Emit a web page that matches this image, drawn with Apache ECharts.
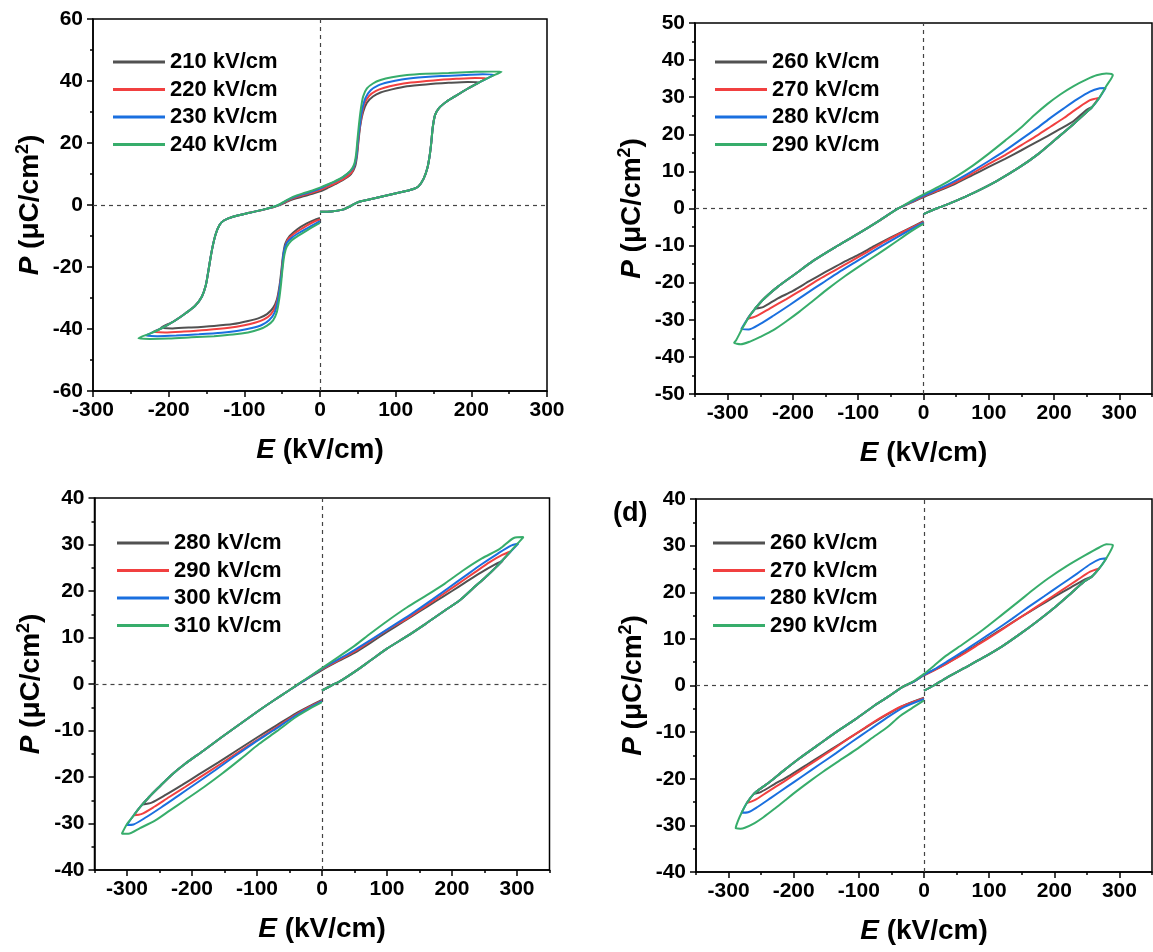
<!DOCTYPE html>
<html>
<head>
<meta charset="utf-8">
<title>P-E loops</title>
<script src="https://cdn.jsdelivr.net/npm/echarts@6.0.0/dist/echarts.min.js"></script>
<style>
html, body { margin: 0; padding: 0; background: #fff; }
#pe-loop-chart-container { width: 1153px; height: 952px; }
</style>
</head>
<body>
<div id="pe-loop-chart-container"></div>
<script>
// colours of the four loops in every panel (gray, red, blue, green)
var loopColors = ['#515151', '#F14040', '#1A6FDF', '#37AD6B'];

// panel a : 210 - 240 kV/cm  (E kV/cm, P uC/cm2)
var panelANames = ['210 kV/cm', '220 kV/cm', '230 kV/cm', '240 kV/cm'];
var panelA210 = [[0,-2.2],[15,-2.1],[30,-1.5],[40,-0.4],[50,0.9],[65,1.8],[85,2.9],[105,4],[120,4.9],[130,6],[137,8.5],[142,12],[145,16],[147,20],[149,25],[152,29],[157,31.2],[167,33.3],[180,35.3],[195,37.5],[210,39.6],
    [195,39.7],[170,39.4],[140,38.9],[115,38.3],[95,37.3],[80,36.3],[70,35],[62,33],[57,30],[53.5,26],[51,21],[49,16],[46.5,12.5],[41,10],[30,8],[20,6.7],[10,5.5],[0,4.4],[-10,3.6],[-22,2.8],[-35,1.9],[-45,0.9],[-52,0.1],[-60,-0.6],[-75,-1.5],[-95,-2.6],[-115,-3.8],[-127,-5],[-133,-6.5],[-138,-9.5],[-142,-13.5],[-145,-17.5],[-148,-22],[-151,-26],[-156,-29.5],[-165,-32.5],[-178,-35],[-193,-37.5],[-210,-39.6],
    [-195,-39.8],[-170,-39.5],[-140,-39],[-115,-38.4],[-95,-37.4],[-80,-36.4],[-70,-35.2],[-62,-33.2],[-57,-30.5],[-53.5,-26],[-51,-21],[-49,-16.5],[-46,-12.5],[-40,-10],[-30,-7.8],[-18,-6],[-8,-4.9],[0,-4.2]];
var panelA220 = [[0,-2.2],[15,-2.1],[30,-1.5],[40,-0.4],[50,0.9],[65,1.8],[85,2.9],[105,4],[120,4.9],[130,6],[137,8.5],[142,12],[145,16],[147,20],[149,25],[152,29],[157,31.2],[167,33.3],[180,35.3],[195,37.5],[210,39.5],[220,40.9],
    [205,41],[180,40.7],[150,40.2],[120,39.5],[100,38.7],[85,37.8],[74,36.8],[65,35.2],[58.5,32.5],[54.5,28],[51.5,23],[49.5,18],[47,14],[42,10.6],[31,8.4],[20,7],[10,5.9],[0,4.8],[-10,4],[-22,3.2],[-35,2.2],[-45,1.1],[-52,0.2],[-60,-0.6],[-75,-1.5],[-95,-2.6],[-115,-3.8],[-127,-5],[-133,-6.5],[-138,-9.5],[-142,-13.5],[-145,-17.5],[-148,-22],[-151,-26],[-156,-29.5],[-165,-32.5],[-178,-35],[-193,-37.5],[-208,-39.6],[-220,-40.9],
    [-205,-41.1],[-180,-40.8],[-150,-40.3],[-120,-39.6],[-100,-38.8],[-85,-37.9],[-74,-36.9],[-65,-35.3],[-58.5,-32.5],[-54.5,-28.5],[-51.5,-23.5],[-49.5,-18.5],[-47,-14.5],[-42,-11],[-31,-8.7],[-18,-6.7],[-8,-5.4],[0,-4.7]];
var panelA230 = [[0,-2.2],[15,-2.1],[30,-1.5],[40,-0.4],[50,0.9],[65,1.8],[85,2.9],[105,4],[120,4.9],[130,6],[137,8.5],[142,12],[145,16],[147,20],[149,25],[152,29],[157,31.2],[167,33.3],[180,35.3],[195,37.5],[210,39.5],[225,41.3],[230,42],
    [215,42.2],[190,41.9],[160,41.6],[130,41.1],[108,40.5],[90,39.6],[77,38.6],[67,37],[60,34.5],[55.5,30.5],[52.5,25.5],[50,20.5],[48,15.5],[44,12],[35,9.8],[25,8.2],[12,6.7],[0,5.3],[-10,4.4],[-22,3.5],[-35,2.5],[-45,1.3],[-52,0.3],[-60,-0.5],[-75,-1.5],[-95,-2.6],[-115,-3.8],[-127,-5],[-133,-6.5],[-138,-9.5],[-142,-13.5],[-145,-17.5],[-148,-22],[-151,-26],[-156,-29.5],[-165,-32.5],[-178,-35],[-193,-37.5],[-208,-39.6],[-224,-41.4],[-230,-42.1],
    [-215,-42.3],[-190,-42.1],[-160,-41.7],[-130,-41.2],[-108,-40.6],[-90,-39.7],[-77,-38.7],[-67,-37.1],[-60,-34.7],[-55.5,-30.5],[-52.5,-25.5],[-50,-20.5],[-48,-15.5],[-44,-12.3],[-36,-10.3],[-25,-8.6],[-12,-6.8],[0,-5.2]];
var panelA240 = [[0,-2.2],[15,-2.1],[30,-1.5],[40,-0.4],[50,0.9],[65,1.8],[85,2.9],[105,4],[120,4.9],[130,6],[137,8.5],[142,12],[145,16],[147,20],[149,25],[152,29],[157,31.2],[167,33.3],[180,35.3],[195,37.5],[210,39.5],[225,41.3],[240,43],
    [225,43.1],[200,42.9],[170,42.6],[140,42.3],[115,41.9],[95,41.2],[80,40.3],[70,39.2],[62,37.6],[57,35],[54,31],[51.5,26],[49.5,21],[47.5,16],[45,13],[40,11],[30,9],[20,7.7],[10,6.6],[0,5.6],[-10,4.7],[-22,3.8],[-35,2.7],[-45,1.4],[-52,0.4],[-60,-0.5],[-75,-1.5],[-95,-2.6],[-115,-3.8],[-127,-5],[-133,-6.5],[-138,-9.5],[-142,-13.5],[-145,-17.5],[-148,-22],[-151,-26],[-156,-29.5],[-165,-32.5],[-178,-35],[-193,-37.5],[-208,-39.6],[-224,-41.4],[-240,-43],
    [-225,-43.2],[-200,-43.1],[-170,-42.7],[-140,-42.3],[-115,-41.8],[-95,-41.1],[-80,-40.1],[-70,-38.9],[-62,-37.2],[-57,-34.5],[-54,-30.5],[-51.5,-25.5],[-49.5,-20.5],[-47,-16],[-44,-13.5],[-38,-11.5],[-28,-9.8],[-16,-8],[-6,-6.6],[0,-5.8]];

// panel b : 260 - 290 kV/cm
var panelBNames = ['260 kV/cm', '270 kV/cm', '280 kV/cm', '290 kV/cm'];
var panelB260 = [[0,-1.5],[20,0],[45,1.7],[80,4.5],[112,7.4],[146,11],[175,14.6],[202,18.6],[230,22.8],[250,26],[258,27.3],
    [250,26.6],[230,23.6],[210,21.5],[190,19.5],[170,17.6],[150,15.7],[125,13.4],[100,11.2],[75,9],[50,6.8],[25,4.9],[0,3.1],[-20,1.5],[-40,-0.1],[-67,-3.2],[-100,-6.8],[-135,-10.4],[-168,-14],[-196,-17.6],[-224,-21.2],[-247,-24.8],[-258,-27],
    [-245,-26.5],[-225,-24.4],[-200,-22.2],[-175,-19.6],[-150,-17.1],[-125,-14.7],[-100,-12.5],[-75,-10.1],[-50,-7.8],[-25,-5.6],[0,-3.4]];
var panelB270 = [[0,-1.5],[20,0],[45,1.7],[80,4.5],[112,7.4],[146,11],[175,14.6],[202,18.6],[230,22.8],[250,26],[258,27.3],[268,29.8],
    [255,29.2],[235,26.9],[215,24.4],[195,22.1],[175,19.8],[150,17.1],[125,14.4],[100,12],[75,9.5],[50,7.1],[25,5.1],[0,3.3],[-20,1.6],[-40,-0.1],[-67,-3.2],[-100,-6.8],[-135,-10.4],[-168,-14],[-196,-17.6],[-224,-21.2],[-247,-24.8],[-265,-28.6],[-270,-29.8],
    [-257,-29.1],[-235,-26.9],[-210,-24.4],[-185,-21.8],[-160,-19.1],[-135,-16.6],[-110,-14.1],[-85,-11.6],[-60,-9],[-30,-6.2],[0,-3.6]];
var panelB280 = [[0,-1.5],[20,0],[45,1.7],[80,4.5],[112,7.4],[146,11],[175,14.6],[202,18.6],[230,22.8],[250,26],[258,27.3],[268,29.5],[279,32.5],
    [270,32.4],[255,31.5],[235,29.4],[215,27],[195,24.5],[175,21.8],[150,18.7],[125,15.6],[100,12.8],[75,10.1],[50,7.6],[25,5.4],[0,3.5],[-20,1.7],[-40,-0.1],[-67,-3.2],[-100,-6.8],[-135,-10.4],[-168,-14],[-196,-17.6],[-224,-21.2],[-247,-24.8],[-265,-28.6],[-274,-31],[-279,-32.5],
    [-268,-32.6],[-250,-31.1],[-230,-28.9],[-205,-26],[-180,-23],[-155,-20.1],[-130,-17.2],[-105,-14.5],[-80,-11.8],[-55,-9.2],[-28,-6.5],[0,-3.8]];
var panelB290 = [[0,-1.5],[20,0],[45,1.7],[80,4.5],[112,7.4],[146,11],[175,14.6],[202,18.6],[230,22.8],[250,26],[258,27.3],[268,29.5],[280,33],[290,36],
    [280,36.4],[265,35.9],[250,34.8],[230,33],[210,30.8],[190,28.2],[170,25.2],[150,21.9],[125,18.3],[100,14.8],[75,11.5],[50,8.6],[25,6],[0,3.8],[-20,1.9],[-40,-0.1],[-67,-3.2],[-100,-6.8],[-135,-10.4],[-168,-14],[-196,-17.6],[-224,-21.2],[-247,-24.8],[-265,-28.6],[-278,-32.5],[-287,-35.5],[-290,-36.2],
    [-280,-36.6],[-265,-35.8],[-250,-34.6],[-230,-32.8],[-210,-30.4],[-190,-27.8],[-170,-25],[-146,-21.6],[-120,-18.2],[-95,-15.2],[-70,-12.3],[-45,-9.3],[-22,-6.5],[0,-4.1]];

// panel c : 280 - 310 kV/cm
var panelCNames = ['280 kV/cm', '290 kV/cm', '300 kV/cm', '310 kV/cm'];
var panelC280 = [[0,-1.4],[15,-0.3],[30,0.8],[50,2.6],[75,5.1],[100,7.6],[131,10.3],[160,13],[189,15.8],[212,18],[234,20.8],[252,23],[269,25.3],[278,26.5],
    [265,25.6],[245,24],[220,21.8],[200,20],[175,17.8],[150,15.6],[125,13.4],[100,11.2],[75,8.9],[50,6.7],[25,4.9],[0,3],[-29,0.6],[-51,-1.4],[-75,-3.6],[-97,-5.7],[-125,-8.5],[-154,-11.4],[-182,-14.3],[-211,-17.2],[-232,-19.6],[-251,-22.2],[-266,-24.3],[-276,-25.9],
    [-262,-25.5],[-240,-23.8],[-215,-21.7],[-190,-19.5],[-160,-16.9],[-130,-14.2],[-100,-11.5],[-70,-8.9],[-40,-6.3],[-20,-4.8],[0,-3.4]];
var panelC290 = [[0,-1.4],[15,-0.3],[30,0.8],[50,2.6],[75,5.1],[100,7.6],[131,10.3],[160,13],[189,15.8],[212,18],[234,20.8],[252,23],[269,25.3],[283,27.4],[290,28.5],
    [278,27.8],[258,26.2],[235,24],[210,21.6],[185,19.2],[160,16.8],[130,14],[100,11.6],[75,9.3],[50,7],[25,5.1],[0,3.2],[-29,0.6],[-51,-1.4],[-75,-3.6],[-97,-5.7],[-125,-8.5],[-154,-11.4],[-182,-14.3],[-211,-17.2],[-232,-19.6],[-251,-22.2],[-266,-24.3],[-280,-26.5],[-289,-28.2],
    [-278,-28],[-258,-26.4],[-235,-24.3],[-210,-22.1],[-185,-19.8],[-155,-17.1],[-125,-14.3],[-97,-11.8],[-70,-9.3],[-40,-6.6],[-20,-5],[0,-3.6]];
var panelC300 = [[0,-1.4],[15,-0.3],[30,0.8],[50,2.6],[75,5.1],[100,7.6],[131,10.3],[160,13],[189,15.8],[212,18],[234,20.8],[252,23],[269,25.3],[283,27.4],[302,30.2],
    [290,29.7],[270,28],[245,25.7],[220,23.2],[195,20.7],[170,18.2],[140,15.3],[110,12.6],[80,9.9],[50,7.3],[25,5.3],[0,3.3],[-29,0.6],[-51,-1.4],[-75,-3.6],[-97,-5.7],[-125,-8.5],[-154,-11.4],[-182,-14.3],[-211,-17.2],[-232,-19.6],[-251,-22.2],[-266,-24.3],[-280,-26.5],[-291,-28.5],[-300,-30.3],
    [-290,-30.2],[-270,-28.6],[-247,-26.5],[-222,-24.1],[-195,-21.5],[-165,-18.6],[-135,-15.6],[-105,-12.7],[-75,-10],[-45,-7.2],[-20,-5.2],[0,-3.7]];
var panelC310 = [[0,-1.4],[15,-0.3],[30,0.8],[50,2.6],[75,5.1],[100,7.6],[131,10.3],[160,13],[189,15.8],[212,18],[234,20.8],[252,23],[269,25.3],[283,27.4],[297,29.6],[310,31.6],
    [295,31.4],[274,29.1],[246,27],[217,24.4],[189,21.6],[160,19],[131,16.5],[100,13.5],[74,10.8],[50,8.2],[25,5.8],[0,3.4],[-29,0.7],[-51,-1.4],[-75,-3.6],[-97,-5.7],[-125,-8.5],[-154,-11.4],[-182,-14.3],[-211,-17.2],[-232,-19.6],[-251,-22.2],[-266,-24.3],[-280,-26.5],[-291,-28.5],[-300,-30.1],[-308,-32.2],
    [-298,-32.2],[-280,-31],[-257,-29.4],[-235,-27.3],[-211,-25],[-182,-22.2],[-154,-19.3],[-125,-16.1],[-97,-12.9],[-70,-10.2],[-40,-7.1],[-20,-5.4],[0,-3.9]];

// panel d : 260 - 290 kV/cm
var panelDNames = ['260 kV/cm', '270 kV/cm', '280 kV/cm', '290 kV/cm'];
var panelD260 = [[0,-1.1],[15,0],[34,1.6],[60,3.6],[90,5.9],[120,8.4],[146,10.9],[175,13.9],[202,16.9],[225,19.7],[245,22.2],[258,23.4],
    [245,22.6],[225,21],[200,19],[175,16.9],[150,14.8],[125,12.6],[100,10.4],[75,8.2],[50,6],[25,4],[0,2.2],[-15,0.9],[-34,-0.4],[-55,-2.4],[-78,-4.5],[-105,-7.2],[-135,-10],[-163,-12.8],[-191,-15.6],[-215,-18.2],[-236,-20.6],[-250,-22],[-261,-23.2],
    [-250,-22.8],[-230,-21.2],[-205,-19.2],[-180,-17],[-155,-14.8],[-130,-12.6],[-105,-10.4],[-80,-8.2],[-55,-6.1],[-30,-4.2],[0,-2.6]];
var panelD270 = [[0,-1.1],[15,0],[34,1.6],[60,3.6],[90,5.9],[120,8.4],[146,10.9],[175,13.9],[202,16.9],[225,19.7],[245,22.2],[258,23.4],[269,25.1],
    [255,24.4],[235,22.6],[210,20.3],[185,18],[160,15.7],[135,13.4],[110,11.1],[85,8.9],[60,6.7],[35,4.7],[15,3.2],[0,2.2],[-15,0.9],[-34,-0.4],[-55,-2.4],[-78,-4.5],[-105,-7.2],[-135,-10],[-163,-12.8],[-191,-15.6],[-215,-18.2],[-236,-20.6],[-250,-22],[-261,-23.2],[-272,-25.2],
    [-260,-24.6],[-240,-22.8],[-215,-20.6],[-190,-18.3],[-165,-16],[-140,-13.7],[-115,-11.3],[-90,-9],[-65,-6.8],[-35,-4.5],[0,-2.7]];
var panelD280 = [[0,-1.1],[15,0],[34,1.6],[60,3.6],[90,5.9],[120,8.4],[146,10.9],[175,13.9],[202,16.9],[225,19.7],[245,22.2],[258,23.4],[269,25.1],[280,27.3],
    [270,27.1],[255,26],[235,24],[210,21.6],[185,19.2],[160,16.8],[135,14.3],[110,11.9],[85,9.6],[60,7.3],[35,5.1],[15,3.4],[0,2.3],[-15,0.9],[-34,-0.4],[-55,-2.4],[-78,-4.5],[-105,-7.2],[-135,-10],[-163,-12.8],[-191,-15.6],[-215,-18.2],[-236,-20.6],[-250,-22],[-261,-23.2],[-272,-25.2],[-280,-27.3],
    [-270,-27.2],[-255,-26],[-235,-24.1],[-210,-21.7],[-185,-19.3],[-160,-16.9],[-135,-14.5],[-110,-12],[-85,-9.6],[-60,-7.2],[-30,-4.6],[0,-2.9]];
var panelD290 = [[0,-1.1],[15,0],[34,1.6],[60,3.6],[90,5.9],[120,8.4],[146,10.9],[175,13.9],[202,16.9],[225,19.7],[245,22.2],[258,23.4],[269,25.1],[280,27.3],[290,30.1],
    [280,30.3],[269,29.6],[247,27.9],[219,25.6],[191,23],[170,20.8],[146,18.1],[120,15.2],[90,11.9],[60,8.9],[34,6.4],[15,4.2],[0,2.5],[-15,1],[-34,-0.4],[-55,-2.4],[-78,-4.5],[-105,-7.2],[-135,-10],[-163,-12.8],[-191,-15.6],[-215,-18.2],[-236,-20.6],[-250,-22],[-261,-23.2],[-272,-25.2],[-280,-27.3],[-286,-29.2],[-289,-30.6],
    [-282,-30.7],[-275,-30.5],[-260,-29.5],[-247,-28.3],[-230,-26.5],[-213,-24.6],[-194,-22.5],[-174,-20.4],[-155,-18.5],[-135,-16.6],[-105,-13.8],[-78,-11.1],[-55,-8.8],[-39,-6.8],[-20,-5],[0,-3.2]];

// axis ranges per panel
var xRanges = [[-300, 300, 100], [-350, 350, 50], [-350, 350, 50], [-350, 350, 50]];
var yRanges = [[-60, 60, 20], [-50, 50, 10], [-40, 40, 10], [-40, 40, 10]];

var PE_LoopChart = function () {
    var FONT = '"Liberation Sans", Arial, sans-serif';
    // plot frames in px
    var frames = [
        { left: 93, top: 19, width: 454, height: 372 },
        { left: 695, top: 23, width: 457, height: 371 },
        { left: 94.5, top: 498, width: 455, height: 372 },
        { left: 696, top: 499, width: 456, height: 373 }
    ];
    var legendPos = [[113, 51], [715, 51], [117, 532], [713, 532]];

    var axisLineStyle = { color: '#000', width: 1.5 };
    var labelStyle = { color: '#000', fontSize: 21, fontWeight: 'bold', fontFamily: FONT };
    var nameStyle = {
        color: '#000', fontSize: 28, fontWeight: 'bold', fontFamily: FONT, lineHeight: 32,
        rich: {
            i: { fontSize: 28, fontWeight: 'bold', fontStyle: 'italic', fontFamily: FONT, lineHeight: 32 },
            s: { fontSize: 18, fontWeight: 'bold', fontFamily: FONT, lineHeight: 14, verticalAlign: 'top' }
        }
    };

    var _build = function () {
        var dom = document.getElementById('pe-loop-chart-container');
        var myChart = echarts.init(dom, null, { renderer: 'canvas' });

        var panels = [
            { names: panelANames, loops: [panelA210, panelA220, panelA230, panelA240] },
            { names: panelBNames, loops: [panelB260, panelB270, panelB280, panelB290] },
            { names: panelCNames, loops: [panelC280, panelC290, panelC300, panelC310] },
            { names: panelDNames, loops: [panelD260, panelD270, panelD280, panelD290] }
        ];

        var grids = [], xAxes = [], yAxes = [], series = [], legends = [];

        for (var p = 0; p < 4; p++) {
            var f = frames[p];
            grids.push({ left: f.left, top: f.top, width: f.width, height: f.height,
                show: true, borderColor: '#000', borderWidth: 1.5, containLabel: false });

            var xr = xRanges[p], yr = yRanges[p];
            var labelled = (xr[2] === 100);
            xAxes.push({
                type: 'value', gridIndex: p, min: xr[0], max: xr[1], interval: xr[2],
                axisLine: { show: true, onZero: false, lineStyle: axisLineStyle },
                axisTick: { show: true, length: labelled ? 6 : 3, lineStyle: axisLineStyle },
                minorTick: { show: labelled, splitNumber: 2, length: 3, lineStyle: axisLineStyle },
                splitLine: { show: false },
                axisLabel: labelled ? Object.assign({ margin: 9 }, labelStyle) : { show: false },
                name: labelled ? '{i|E} (kV/cm)' : '',
                nameLocation: 'middle', nameGap: 43, nameTextStyle: nameStyle
            });
            yAxes.push({
                type: 'value', gridIndex: p, min: yr[0], max: yr[1], interval: yr[2],
                axisLine: { show: true, onZero: false, lineStyle: axisLineStyle },
                axisTick: { show: true, length: 6, lineStyle: axisLineStyle },
                minorTick: { show: true, splitNumber: 2, length: 3, lineStyle: axisLineStyle },
                splitLine: { show: false },
                axisLabel: Object.assign({ margin: 10 }, labelStyle),
                name: '{i|P} (μC/cm{s|2})', nameLocation: 'middle', nameGap: 47, nameRotate: 90,
                nameTextStyle: nameStyle
            });

            var legendData = [];
            for (var k = 0; k < 4; k++) {
                var sname = 'p' + p + '|' + panels[p].names[k];
                legendData.push(sname);
                var s = {
                    name: sname, type: 'line', xAxisIndex: p, yAxisIndex: p,
                    data: panels[p].loops[k], showSymbol: false, symbol: 'none', smooth: 0.25,
                    color: loopColors[k], lineStyle: { width: 2, color: loopColors[k] },
                    animation: false
                };
                if (k === 0) {
                    s.markLine = {
                        silent: true, z: 1, symbol: ['none', 'none'], label: { show: false },
                        lineStyle: { color: '#444', type: [4, 4], width: 1.2 },
                        data: [{ xAxis: 0 }, { yAxis: 0 }], animation: false
                    };
                }
                series.push(s);
            }
            legends.push({
                orient: 'vertical', left: legendPos[p][0], top: legendPos[p][1], padding: 0,
                itemWidth: 52, itemHeight: 3, itemGap: 5.5, icon: 'rect', selectedMode: false,
                textStyle: { color: '#000', fontSize: 22, fontWeight: 'bold', fontFamily: FONT, lineHeight: 22 },
                formatter: function (name) { return name.split('|')[1]; },
                data: legendData
            });
        }

        // major ticks + labels every 100 for the +-350 panels, laid on their own grid
        for (var q = 1; q < 4; q++) {
            var g = frames[q], xr2 = xRanges[q];
            var pxPerUnit = g.width / (xr2[1] - xr2[0]);
            var gi = grids.length;
            grids.push({ left: g.left + (-300 - xr2[0]) * pxPerUnit, top: g.top,
                width: 600 * pxPerUnit, height: g.height, show: false });
            xAxes.push({
                type: 'value', gridIndex: gi, min: -300, max: 300, interval: 100,
                axisLine: { show: false, onZero: false },
                axisTick: { show: true, length: 6, lineStyle: axisLineStyle },
                splitLine: { show: false },
                axisLabel: Object.assign({ margin: 9 }, labelStyle),
                name: '{i|E} (kV/cm)', nameLocation: 'middle', nameGap: 43, nameTextStyle: nameStyle
            });
            yAxes.push({ type: 'value', gridIndex: gi, min: 0, max: 1, show: false });
        }

        var option = {
            backgroundColor: '#fff',
            animation: false,
            grid: grids,
            xAxis: xAxes,
            yAxis: yAxes,
            legend: legends,
            series: series,
            graphic: [{
                type: 'text', left: 613, top: 500,
                style: { text: '(d)', fill: '#000', font: 'bold 27px ' + FONT }
            }]
        };

        if (option && typeof option === 'object') {
            myChart.setOption(option);
        }
        window.addEventListener('resize', function () {
            myChart.resize();
        });
    };

    return {
        init: function () {
            _build();
        }
    };
}();

document.addEventListener('DOMContentLoaded', function () {
    PE_LoopChart.init();
});
</script>
</body>
</html>
